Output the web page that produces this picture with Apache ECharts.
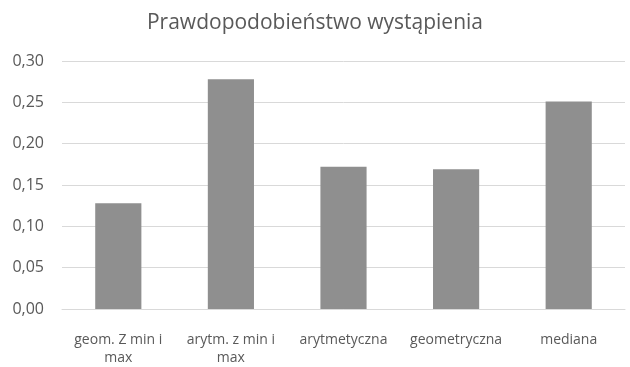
<!DOCTYPE html>
<html>
<head>
<meta charset="utf-8">
<script src="https://cdn.jsdelivr.net/npm/echarts@6/dist/echarts.min.js"></script>
<style>
  html, body { margin: 0; padding: 0; background: #fff; }
  #chart { width: 630px; height: 367px; }
</style>
</head>
<body>
<div id="chart"></div>
<script>
// Probability of occurrence for each averaging method
const chartTitle = 'Prawdopodobieństwo wystąpienia';
const categories = ['geom. Z min i\nmax', 'arytm. z min i\nmax', 'arytmetyczna', 'geometryczna', 'mediana'];
const values = [0.128, 0.278, 0.172, 0.169, 0.251];
const yTicks = { min: 0, max: 0.30, interval: 0.05 };

const chart = echarts.init(document.getElementById('chart'));
chart.setOption({
  animation: false,
  title: {
    text: chartTitle,
    left: 'center',
    top: 8,
    textStyle: { fontFamily: 'Open Sans', fontSize: 21, fontWeight: 'normal', color: '#595959' }
  },
  grid: { left: 62, right: 5, top: 61, bottom: 51, containLabel: false },
  xAxis: {
    type: 'category',
    data: categories,
    axisLine: { show: true, lineStyle: { color: '#d9d9d9' } },
    axisTick: { show: false },
    axisLabel: {
      color: '#595959', fontFamily: 'Open Sans', fontSize: 14,
      margin: 22, lineHeight: 18, interval: 0
    }
  },
  yAxis: {
    type: 'value',
    min: yTicks.min, max: yTicks.max, interval: yTicks.interval,
    axisLine: { show: false },
    axisTick: { show: false },
    splitLine: { lineStyle: { color: '#d9d9d9' } },
    axisLabel: {
      color: '#595959', fontFamily: 'Open Sans', fontSize: 16, margin: 18,
      formatter: v => v.toFixed(2).replace('.', ',')
    }
  },
  series: [{
    type: 'bar',
    data: values,
    barWidth: '41%',
    itemStyle: { color: '#8f8f8f' }
  }]
});
</script>
</body>
</html>
